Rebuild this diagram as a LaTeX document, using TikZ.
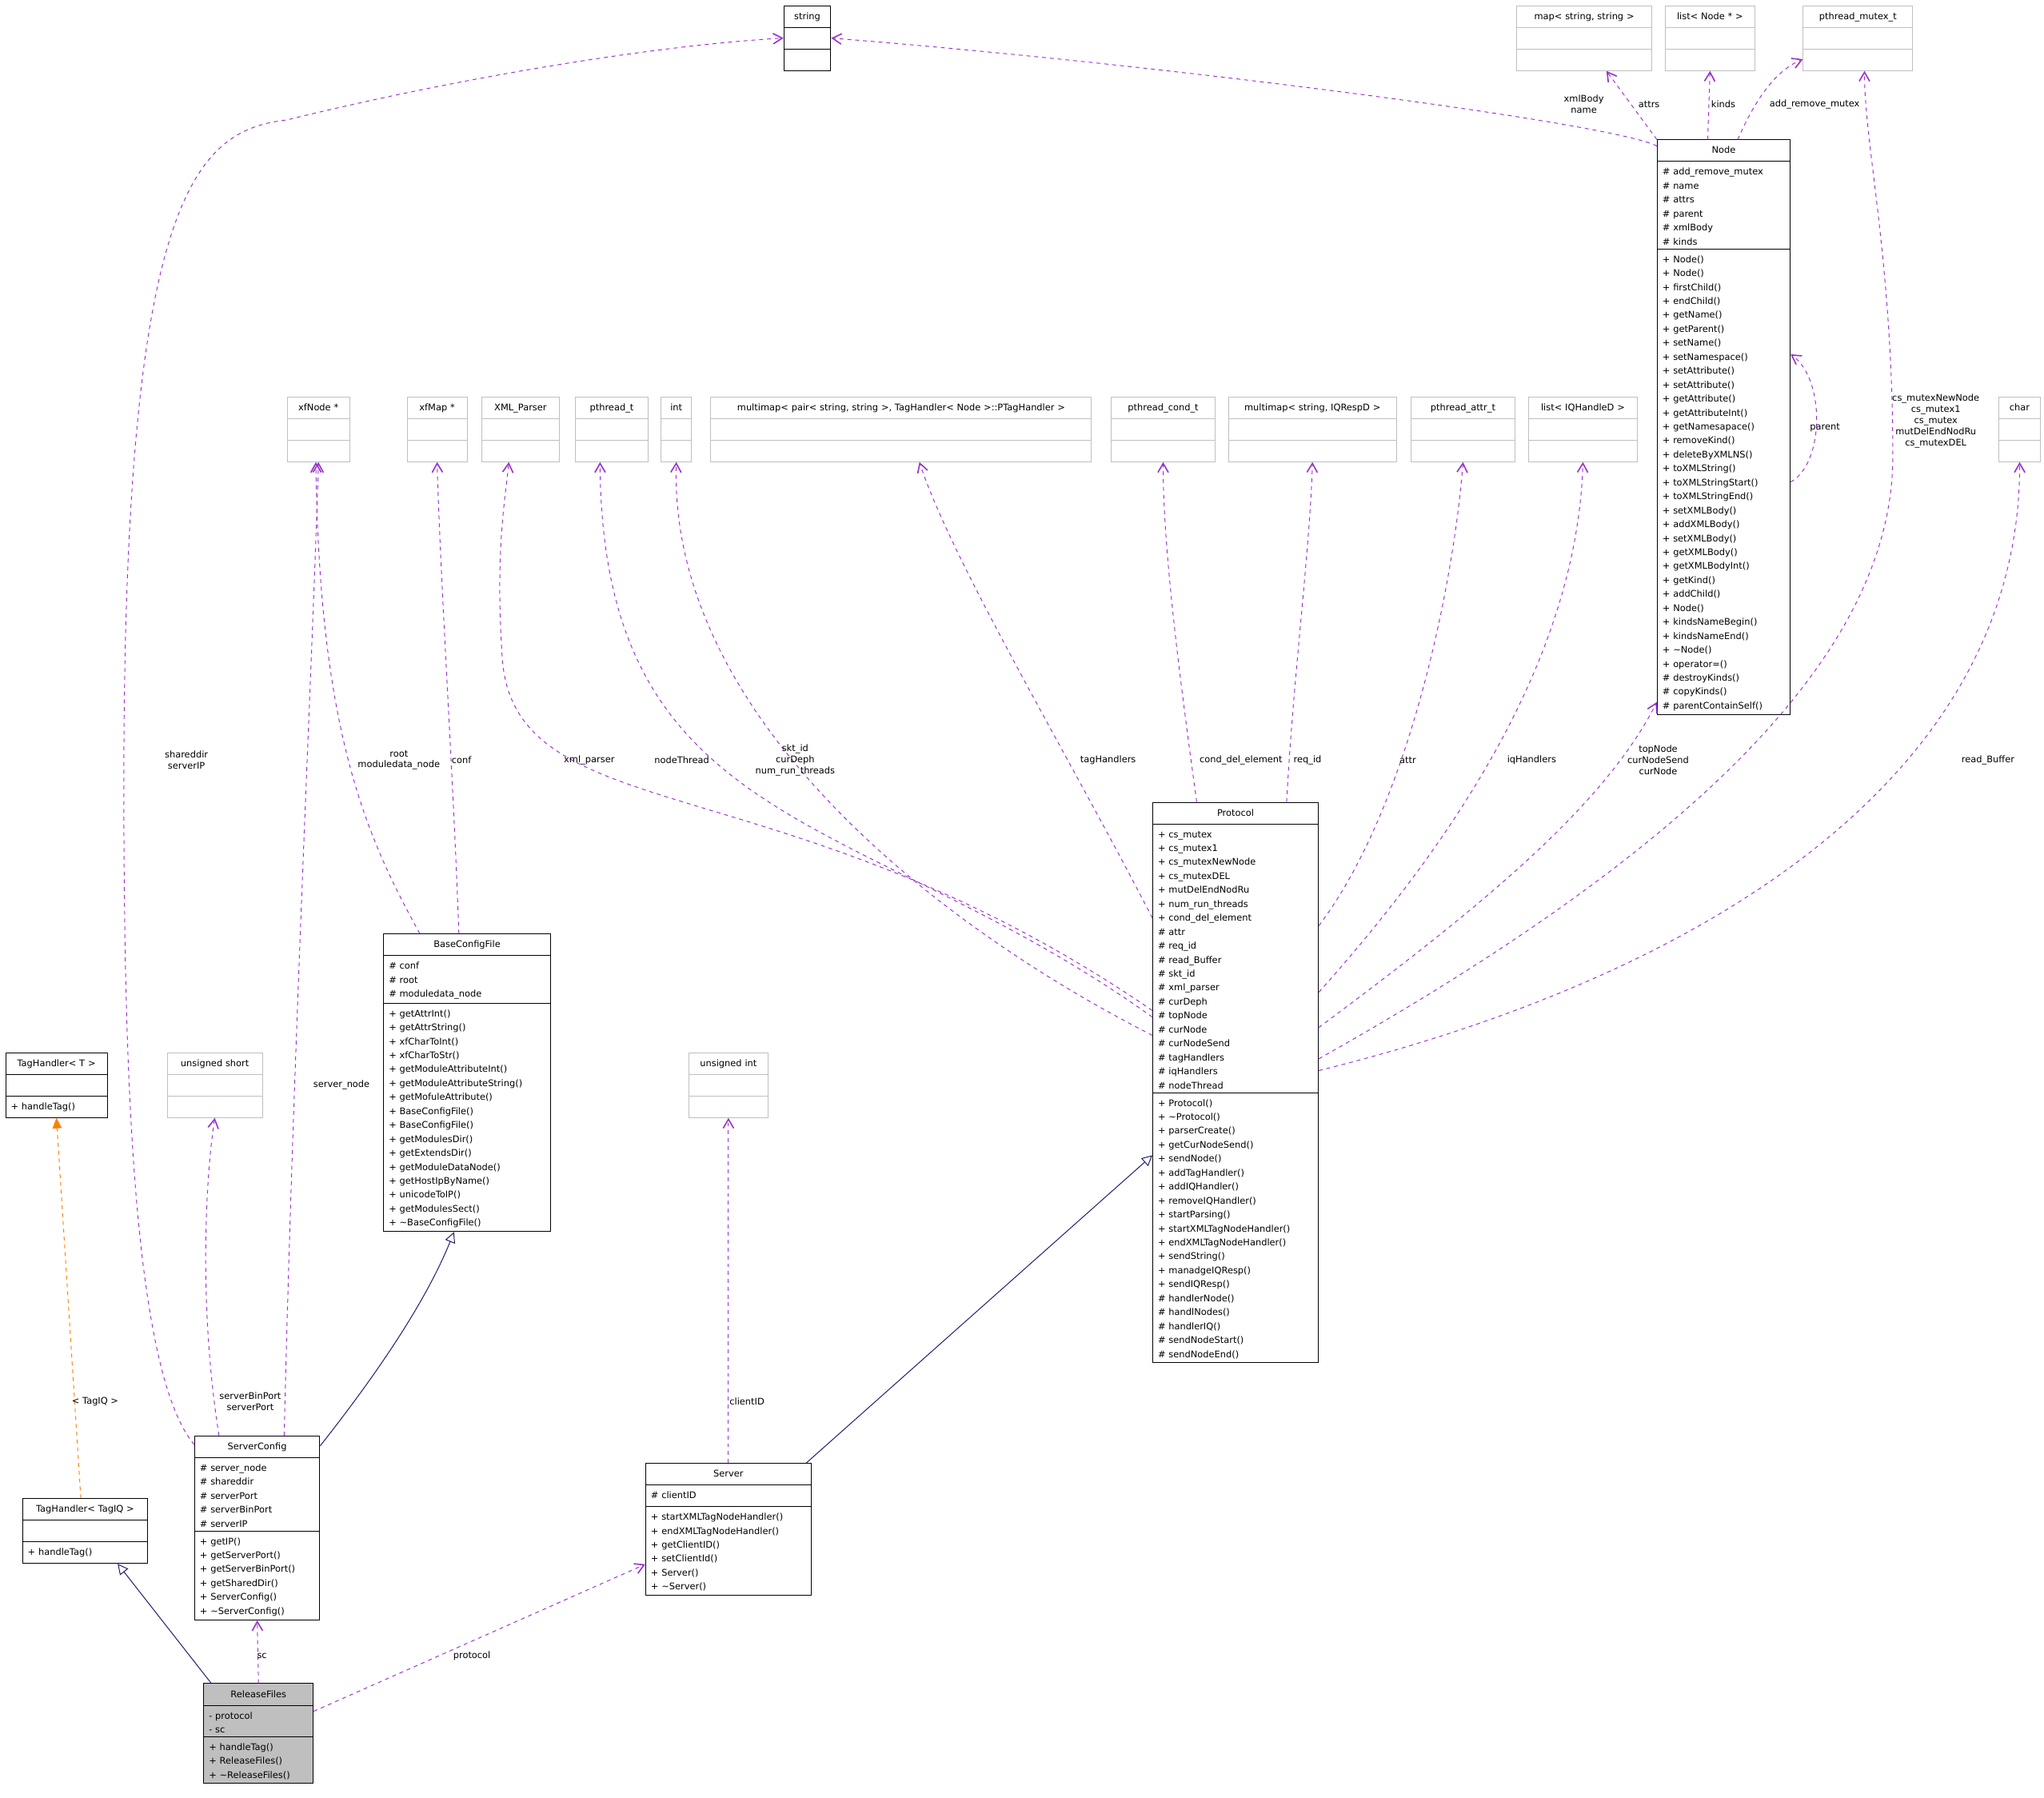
\documentclass[tikz,border=0pt]{standalone}
\usepackage{fontspec}
\setmainfont{DejaVu Sans}
\usetikzlibrary{shapes.multipart,arrows.meta}
\definecolor{depcol}{HTML}{9A32CD}
\definecolor{inhcol}{HTML}{191970}
\definecolor{extcol}{HTML}{BFBFBF}
\tikzset{
  cls/.style={rectangle split, rectangle split parts=3, draw=black, text width=#1,
    align=left, inner xsep=4pt, inner ysep=2.65pt, anchor=north west,
    font=\fontsize{7}{10.7}\selectfont, line width=0.6pt},
  ext/.style={cls=#1, draw=extcol},
  dep/.style={draw=depcol, dashed, line width=0.6pt, -{Straight Barb[angle=60:8pt, line width=1pt]}},
  inh/.style={draw=inhcol, line width=0.6pt, -{Triangle[open, fill=white, length=8pt, width=8pt]}},
  tpl/.style={draw=orange, dashed, line width=0.6pt, -{Triangle[length=8pt, width=7pt]}},
  lbl/.style={font=\fontsize{7}{8.5}\selectfont, align=center, inner sep=0pt}
}
\newcommand{\ttl}[1]{\makebox[\linewidth][c]{\strut #1}}
\begin{document}
\begin{tikzpicture}[x=1pt,y=-1pt]
\useasboundingbox (0,0) rectangle (1568,1379);

% external types
\node[cls=28pt] (str) at (601,4) {\ttl{string}\nodepart{two}\strut\nodepart{three}\strut};
\node[ext=96pt] (mapss) at (1163,4) {\ttl{map< string, string >}\nodepart{two}\strut\nodepart{three}\strut};
\node[ext=61pt] (listnode) at (1277,4) {\ttl{list< Node * >}\nodepart{two}\strut\nodepart{three}\strut};
\node[ext=76pt] (pmutex) at (1383,4) {\ttl{pthread\_mutex\_t}\nodepart{two}\strut\nodepart{three}\strut};
\node[ext=40pt] (xfnode) at (220,304) {\ttl{xfNode *}\nodepart{two}\strut\nodepart{three}\strut};
\node[ext=38pt] (xfmap) at (312,304) {\ttl{xfMap *}\nodepart{two}\strut\nodepart{three}\strut};
\node[ext=52pt] (xmlp) at (369,304) {\ttl{XML\_Parser}\nodepart{two}\strut\nodepart{three}\strut};
\node[ext=48pt] (pthr) at (441,304) {\ttl{pthread\_t}\nodepart{two}\strut\nodepart{three}\strut};
\node[ext=15pt] (int) at (507,304) {\ttl{int}\nodepart{two}\strut\nodepart{three}\strut};
\node[ext=284pt] (mmpair) at (545,304) {\ttl{multimap< pair< string, string >, TagHandler< Node >::PTagHandler >}\nodepart{two}\strut\nodepart{three}\strut};
\node[ext=72pt] (pcond) at (852,304) {\ttl{pthread\_cond\_t}\nodepart{two}\strut\nodepart{three}\strut};
\node[ext=121pt] (mmiq) at (942,304) {\ttl{multimap< string, IQRespD >}\nodepart{two}\strut\nodepart{three}\strut};
\node[ext=72pt] (pattr) at (1082,304) {\ttl{pthread\_attr\_t}\nodepart{two}\strut\nodepart{three}\strut};
\node[ext=76pt] (listiq) at (1172,304) {\ttl{list< IQHandleD >}\nodepart{two}\strut\nodepart{three}\strut};
\node[ext=24pt] (chr) at (1533,304) {\ttl{char}\nodepart{two}\strut\nodepart{three}\strut};
\node[ext=65pt] (ushort) at (128,807) {\ttl{unsigned short}\nodepart{two}\strut\nodepart{three}\strut};
\node[ext=53pt] (uint) at (528,807) {\ttl{unsigned int}\nodepart{two}\strut\nodepart{three}\strut};

% classes
\node[cls=94pt] (node) at (1271,107) {\ttl{Node}\nodepart{two}\strut\# add\_remove\_mutex\\\# name\\\# attrs\\\# parent\\\# xmlBody\\\# kinds
\nodepart{three}\strut+ Node()\\+ Node()\\+ firstChild()\\+ endChild()\\+ getName()\\+ getParent()\\+ setName()\\+ setNamespace()\\+ setAttribute()\\+ setAttribute()\\+ getAttribute()\\+ getAttributeInt()\\+ getNamesapace()\\+ removeKind()\\+ deleteByXMLNS()\\+ toXMLString()\\+ toXMLStringStart()\\+ toXMLStringEnd()\\+ setXMLBody()\\+ addXMLBody()\\+ setXMLBody()\\+ getXMLBody()\\+ getXMLBodyInt()\\+ getKind()\\+ addChild()\\+ Node()\\+ kindsNameBegin()\\+ kindsNameEnd()\\+ \textasciitilde Node()\\+ operator=()\\\# destroyKinds()\\\# copyKinds()\\\# parentContainSelf()};
\node[cls=119pt] (proto) at (884,615) {\ttl{Protocol}\nodepart{two}\strut+ cs\_mutex\\+ cs\_mutex1\\+ cs\_mutexNewNode\\+ cs\_mutexDEL\\+ mutDelEndNodRu\\+ num\_run\_threads\\+ cond\_del\_element\\\# attr\\\# req\_id\\\# read\_Buffer\\\# skt\_id\\\# xml\_parser\\\# curDeph\\\# topNode\\\# curNode\\\# curNodeSend\\\# tagHandlers\\\# iqHandlers\\\# nodeThread
\nodepart{three}\strut+ Protocol()\\+ \textasciitilde Protocol()\\+ parserCreate()\\+ getCurNodeSend()\\+ sendNode()\\+ addTagHandler()\\+ addIQHandler()\\+ removeIQHandler()\\+ startParsing()\\+ startXMLTagNodeHandler()\\+ endXMLTagNodeHandler()\\+ sendString()\\+ manadgeIQResp()\\+ sendIQResp()\\\# handlerNode()\\\# handlNodes()\\\# handlerIQ()\\\# sendNodeStart()\\\# sendNodeEnd()};
\node[cls=120pt] (bcf) at (294,716) {\ttl{BaseConfigFile}\nodepart{two}\strut\# conf\\\# root\\\# moduledata\_node
\nodepart{three}\strut+ getAttrInt()\\+ getAttrString()\\+ xfCharToInt()\\+ xfCharToStr()\\+ getModuleAttributeInt()\\+ getModuleAttributeString()\\+ getMofuleAttribute()\\+ BaseConfigFile()\\+ BaseConfigFile()\\+ getModulesDir()\\+ getExtendsDir()\\+ getModuleDataNode()\\+ getHostIpByName()\\+ unicodeToIP()\\+ getModulesSect()\\+ \textasciitilde BaseConfigFile()};
\node[cls=70pt] (tht) at (4,807) {\ttl{TagHandler< T >}\nodepart{two}\strut\nodepart{three}\strut+ handleTag()};
\node[cls=88pt] (srvcfg) at (149,1101) {\ttl{ServerConfig}\nodepart{two}\strut\# server\_node\\\# shareddir\\\# serverPort\\\# serverBinPort\\\# serverIP
\nodepart{three}\strut+ getIP()\\+ getServerPort()\\+ getServerBinPort()\\+ getSharedDir()\\+ ServerConfig()\\+ \textasciitilde ServerConfig()};
\node[cls=88pt] (thiq) at (17,1149) {\ttl{TagHandler< TagIQ >}\nodepart{two}\strut\nodepart{three}\strut+ handleTag()};
\node[cls=119pt] (srv) at (495,1122) {\ttl{Server}\nodepart{two}\strut\# clientID
\nodepart{three}\strut+ startXMLTagNodeHandler()\\+ endXMLTagNodeHandler()\\+ getClientID()\\+ setClientId()\\+ Server()\\+ \textasciitilde Server()};
\node[cls=76pt, fill=extcol] (rel) at (156,1291) {\ttl{ReleaseFiles}\nodepart{two}\strut- protocol\\- sc
\nodepart{three}\strut+ handleTag()\\+ ReleaseFiles()\\+ \textasciitilde ReleaseFiles()};

% Node relations
\draw[dep] ([yshift=-5pt]node.north west) .. controls (1240,95) and (900,50) .. (str.east);
\draw[dep] (node.north west) -- ([xshift=17pt]mapss.south);
\draw[dep] ([xshift=39pt]node.north west) -- (listnode.south);
\draw[dep] ([xshift=62pt]node.north west) .. controls (1345,80) and (1360,55) .. ([yshift=9pt]pmutex.south west);
\draw[dep] ([yshift=-42pt]node.east) .. controls (1400,355) and (1400,290) .. ([yshift=56pt]node.east);
\node[lbl] (l-xml) at (1215,80) {xmlBody\\name};
\node[lbl] (l-attrs) at (1265,80) {attrs};
\node[lbl] (l-kinds) at (1322,80) {kinds};
\node[lbl] (l-arm) at (1392,80) {add\_remove\_mutex};
\node[lbl] (l-parent) at (1400,328) {parent};

% Protocol relations
\draw[dep] ([yshift=18pt]proto.east) .. controls (1300,650) and (1452,500) .. (1452,350) .. controls (1452,200) and (1430,110) .. ([xshift=5pt]pmutex.south);
\draw[dep] ([yshift=9pt]proto.east) .. controls (1300,750) and (1550,600) .. (chr.south);
\draw[dep] ([yshift=42pt]proto.east) .. controls (1130,700) and (1230,620) .. ([yshift=10pt]node.south west);
\draw[dep] ([yshift=69pt]proto.east) .. controls (1120,640) and (1210,500) .. (listiq.south);
\draw[dep] ([yshift=120pt]proto.east) .. controls (1080,620) and (1115,450) .. (pattr.south);
\draw[dep] ([xshift=103pt]proto.north west) .. controls (992,520) and (1005,420) .. (mmiq.south);
\draw[dep] ([xshift=34pt]proto.north west) .. controls (905,520) and (892,420) .. (pcond.south);
\draw[dep] ([yshift=126pt]proto.west) .. controls (820,580) and (730,430) .. ([xshift=14pt]mmpair.south);
\draw[dep] ([yshift=36pt]proto.west) .. controls (700,700) and (513,540) .. (int.south);
\draw[dep] ([yshift=50pt]proto.west) .. controls (660,620) and (462,640) .. ([xshift=-9pt]pthr.south);
\draw[dep] ([yshift=55pt]proto.west) .. controls (600,580) and (390,640) .. (385,500) .. controls (380,420) and (388,380) .. ([xshift=-9pt]xmlp.south);
\node[lbl] (l-cs) at (1485,323) {cs\_mutexNewNode\\cs\_mutex1\\cs\_mutex\\mutDelEndNodRu\\cs\_mutexDEL};
\node[lbl] (l-rb) at (1525,583) {read\_Buffer};
\node[lbl] (l-top) at (1272,583) {topNode\\curNodeSend\\curNode};
\node[lbl] (l-iq) at (1175,583) {iqHandlers};
\node[lbl] (l-attr) at (1080,583) {attr};
\node[lbl] (l-req) at (1003,583) {req\_id};
\node[lbl] (l-cond) at (952,583) {cond\_del\_element};
\node[lbl] (l-tag) at (850,583) {tagHandlers};
\node[lbl] (l-skt) at (610,583) {skt\_id\\curDeph\\num\_run\_threads};
\node[lbl] (l-thr) at (523,583) {nodeThread};
\node[lbl] (l-xmlp) at (452,583) {xml\_parser};

% config relations
\draw[dep] ([xshift=28pt]bcf.north west) .. controls (280,640) and (245,560) .. ([xshift=-2pt]xfnode.south);
\draw[dep] ([xshift=58pt]bcf.north west) .. controls (348,600) and (338,450) .. (xfmap.south);
\draw[dep] ([xshift=69pt]srvcfg.north west) .. controls (225,800) and (240,500) .. (xfnode.south);
\draw[dep] ([xshift=19pt]srvcfg.north west) .. controls (152,1000) and (158,900) .. (ushort.south);
\draw[dep] ([yshift=-7pt]srvcfg.north west) .. controls (100,1050) and (95,800) .. (95,600) .. controls (95,150) and (150,100) .. (220,92) .. controls (350,60) and (500,35) .. (str.west);
\draw[inh] ([yshift=-8pt]srvcfg.north east) .. controls (300,1040) and (330,990) .. ([xshift=-10pt]bcf.south);
\node[lbl] (l-root) at (306,583) {root\\moduledata\_node};
\node[lbl] (l-conf) at (354,583) {conf};
\node[lbl] (l-sn) at (262,832) {server\_node};
\node[lbl] (l-port) at (192,1075) {serverBinPort\\serverPort};
\node[lbl] (l-shd) at (143,583) {shareddir\\serverIP};

% bottom relations
\draw[tpl] ([xshift=45pt]thiq.north west) -- (tht.south);
\draw[inh] ([xshift=6pt]rel.north west) -- ([xshift=25pt]thiq.south);
\draw[dep] (rel.north) -- (srvcfg.south);
\draw[dep] ([yshift=17pt]rel.east) -- ([yshift=-27pt]srv.west);
\draw[dep] (srv.north) -- (uint.south);
\draw[inh] ([xshift=-4pt]srv.north east) -- ([yshift=-56pt]proto.west);
\node[lbl] (l-tiq) at (73,1075) {< TagIQ >};
\node[lbl] (l-sc) at (201,1270) {sc};
\node[lbl] (l-prot) at (362,1270) {protocol};
\node[lbl] (l-cid) at (573,1075) {clientID};
\end{tikzpicture}
\end{document}
